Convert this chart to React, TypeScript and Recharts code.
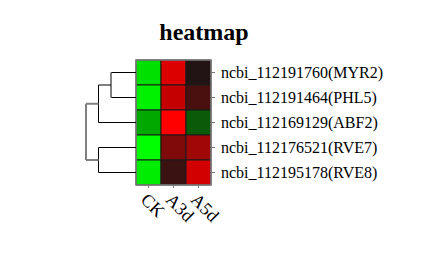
import { ComposedChart, XAxis, YAxis, ReferenceArea, ReferenceLine, Scatter } from 'recharts';

// rows top to bottom, columns left to right
const genes = [
  'ncbi_112191760(MYR2)',
  'ncbi_112191464(PHL5)',
  'ncbi_112169129(ABF2)',
  'ncbi_112176521(RVE7)',
  'ncbi_112195178(RVE8)'
];
const samples = ['CK', 'A3d', 'A5d'];

const ckColors = ['#00e000', '#00f200', '#00a800', '#00ff00', '#00ec00'];
const a3dColors = ['#dc0000', '#c40000', '#ff0000', '#7e0a0a', '#3a1212'];
const a5dColors = ['#221414', '#4a1010', '#0a5a0a', '#a00808', '#d20000'];

// hclust style merges: negative = leaf index (1-based), positive = earlier merge (1-based)
const mergeLeft = [-1, 1, -4, 2];
const mergeRight = [-2, -3, -5, 3];
const mergeHeights = [1.0, 1.5, 1.5, 2.0];
// merges whose lines come out grey in the picture
const greyMerges = [1, 4];

const colorTable = [ckColors, a3dColors, a5dColors];

type Seg = { x1: number; y1: number; x2: number; y2: number; grey: boolean };

function buildDendro(): Seg[] {
  const segs: Seg[] = [];
  const nodeY: number[] = [];
  const nodeH: number[] = [];
  const pos = (id: number) =>
    id < 0 ? { y: -id - 0.5, h: 0 } : { y: nodeY[id - 1], h: nodeH[id - 1] };
  mergeHeights.forEach((h, i) => {
    const a = pos(mergeLeft[i]);
    const b = pos(mergeRight[i]);
    const grey = greyMerges.includes(i + 1);
    segs.push({ x1: -a.h, y1: a.y, x2: -h, y2: a.y, grey: grey && a.h > 0 });
    segs.push({ x1: -b.h, y1: b.y, x2: -h, y2: b.y, grey: grey && b.h > 0 });
    segs.push({ x1: -h, y1: a.y, x2: -h, y2: b.y, grey });
    nodeY.push((a.y + b.y) / 2);
    nodeH.push(h);
  });
  return segs;
}

const cellCentres = colorTable.flatMap((col, c) => col.map((_, r) => ({ x: c + 0.5, y: r + 0.5 })));

const serif = '"Liberation Serif", "Times New Roman", serif';

const ColTick = (props: any) => {
  const { x, y, payload } = props;
  return (
    <text
      transform={`translate(${x},${y}) rotate(45)`}
      dy={12.5}
      fontSize={18}
      style={{ fontFamily: serif }}
      fill="#000"
    >
      {samples[Math.floor(payload.value)]}
    </text>
  );
};

const RowTick = (props: any) => {
  const { x, y, payload } = props;
  return (
    <text x={x} y={y} dy="0.35em" fontSize={16} style={{ fontFamily: serif }} fill="#000" textAnchor="start">
      {genes[Math.floor(payload.value)]}
    </text>
  );
};

export default function App() {
  const segs = buildDendro();
  return (
    <div style={{ position: 'absolute', left: 0, top: 0, width: 443, height: 264, background: '#fff' }}>
      <svg width={443} height={60} style={{ position: 'absolute', left: 0, top: 0 }}>
        <text x={204} y={40} textAnchor="middle" fontSize={24} fontWeight="bold" style={{ fontFamily: serif }}>
          heatmap
        </text>
      </svg>
      <ComposedChart
        width={443}
        height={264}
        data={cellCentres}
        margin={{ top: 60, left: 81, right: 10, bottom: 49 }}
      >
        <XAxis
          type="number"
          dataKey="x"
          domain={[-2.2, 3]}
          ticks={[0.5, 1.5, 2.5]}
          axisLine={false}
          tickLine={{ stroke: '#777' }}
          tickSize={3}
          tickMargin={4}
          tick={<ColTick />}
          height={30}
          interval={0}
          allowDataOverflow
        />
        <YAxis
          type="number"
          dataKey="y"
          orientation="right"
          reversed
          domain={[0, 5]}
          ticks={[0.5, 1.5, 2.5, 3.5, 4.5]}
          axisLine={false}
          tickLine={{ stroke: '#777' }}
          tickSize={4}
          tickMargin={6}
          width={222}
          interval={0}
          allowDataOverflow
          tick={<RowTick />}
        />
        <Scatter data={cellCentres} dataKey="y" isAnimationActive={false} shape={() => <g />} />
        {colorTable.map((col, c) =>
          col.map((color, r) => (
            <ReferenceArea
              key={`cell-${c}-${r}`}
              x1={c}
              x2={c + 1}
              y1={r}
              y2={r + 1}
              fill={color}
              fillOpacity={1}
              stroke="#1a1a1a"
              strokeWidth={1}
              ifOverflow="visible"
            />
          ))
        )}
        <ReferenceArea x1={0} x2={3} y1={0} y2={5} fill="none" stroke="#808080" strokeWidth={1.5} ifOverflow="visible" />
        {segs.map((s, i) => (
          <ReferenceLine
            key={`seg-${i}`}
            segment={[
              { x: s.x1, y: s.y1 },
              { x: s.x2, y: s.y2 }
            ]}
            stroke={s.grey ? '#808080' : '#000'}
            strokeWidth={s.grey ? 2 : 1}
            ifOverflow="visible"
          />
        ))}
      </ComposedChart>
    </div>
  );
}
